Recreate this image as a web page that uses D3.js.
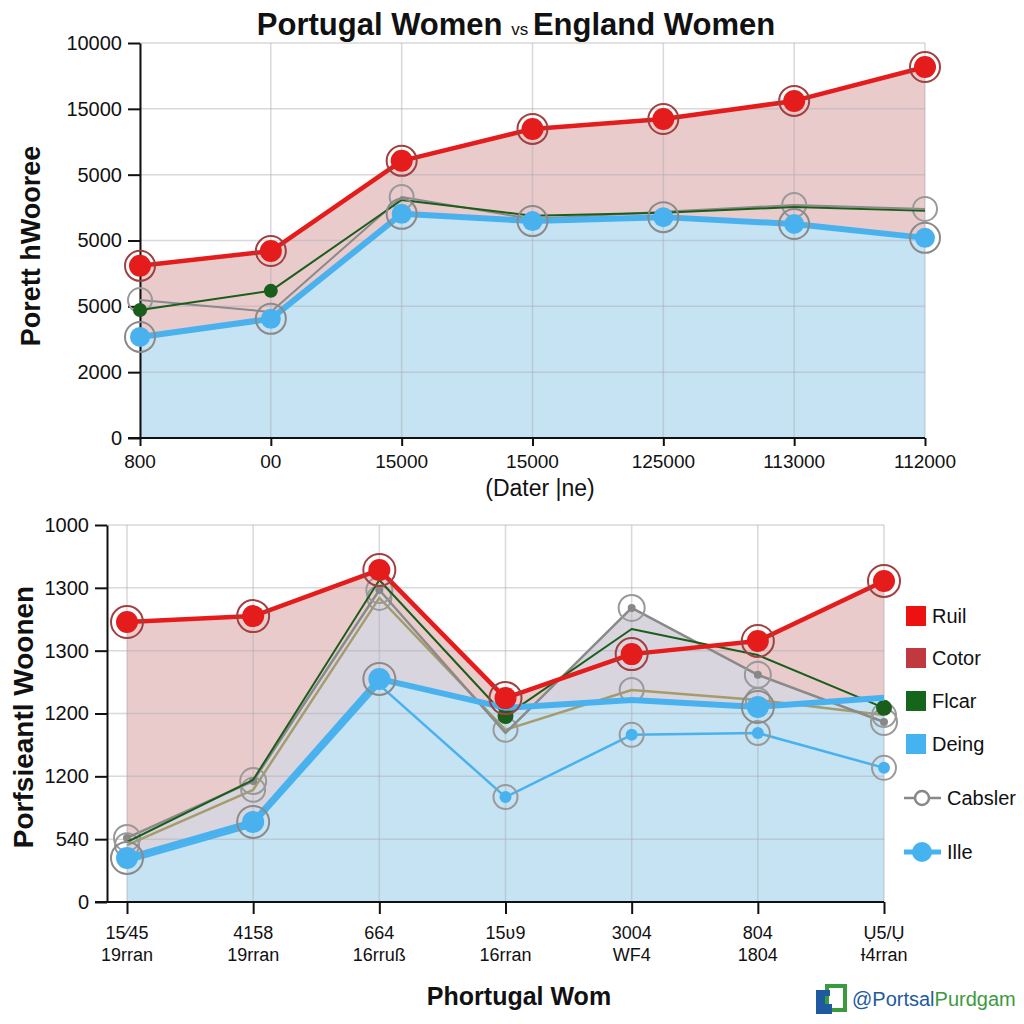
<!DOCTYPE html>
<html><head><meta charset="utf-8">
<script src="https://cdn.jsdelivr.net/npm/d3@7"></script>
<style>body{margin:0;background:#fff}svg{display:block;font-family:"Liberation Sans",Arial,sans-serif}</style>
</head><body><svg id="c" width="1024" height="1024"></svg>
<script>
// ---------- data ----------
const topXLabels = ["800","00","15000","15000","125000","113000","112000"];
const topYTicks = [0,2000,4000,6000,8000,10000,12000];
const topYLabels = ["0","2000","5000","5000","5000","15000","10000"];
const topRed   = [5230,5680,8420,9390,9690,10240,11270];
const topGreen = [3890,4470,7230,6750,6840,7020,6900];
const topGray  = [4190,3830,7320,6650,6870,7080,6960];
const topBlue  = [3070,3620,6810,6590,6710,6500,6080];

const botXLabels1 = ["15⁄45","4158","664","15ʋ9","3004","804","Ụ5/Ụ"];
const botXLabels2 = ["19rran","19rran","16rruß","16rran","WF4","1804","Ɨ4rran"];
const botYTicks = [0,200,400,600,800,1000,1200];
const botYLabels = ["0","540","1200","1200","1300","1300","1000"];
const botRed   = [891,910,1057,649,789,831,1022];
const botGreen = [191,389,1025,592,869,786,618];
const botTan   = [181,357,968,548,675,643,595];
const botGray  = [204,385,993,538,936,723,573];
const botBlue  = [140,255,710,618,643,621,650];
const botBlueThin = [127,242,691,334,532,538,427];

const legendNames = ["Ruil","Cotor","Flcar","Deing","Cabsler","Ille"];
const legendColors = ["#ee1111","#c0393f","#15651a","#45b3f0","#888888","#45b3f0"];

// ---------- drawing ----------
const svg = d3.select("#c");
const RED="#e51c1c", BLUE="#49b2ee", GREEN="#1b5e1b", GRAY="#8a8a8a", TAN="#a49c6c";

function panel(cfg){
  const g = svg.append("g");
  const x = d3.scalePoint().domain(d3.range(cfg.n)).range(cfg.xr);
  const y = d3.scaleLinear().domain(cfg.yd).range(cfg.yr);
  const idx = d3.range(cfg.n);
  cfg.areas.forEach(a=>{
    g.append("path").attr("fill",a.fill)
     .attr("d", d3.area().x(i=>x(i)).y0(y(0)).y1(i=>y(a.data[i]))(idx));
  });
  g.selectAll(".hg").data(cfg.yticks).join("line")
    .attr("x1",cfg.gridLeft).attr("x2",cfg.xr[1]).attr("y1",d=>y(d)).attr("y2",d=>y(d))
    .attr("stroke","rgba(170,170,180,0.45)").attr("stroke-width",1.5);
  g.selectAll(".vg").data(idx).join("line")
    .attr("x1",i=>x(i)).attr("x2",i=>x(i)).attr("y1",cfg.yr[1]).attr("y2",cfg.yr[0])
    .attr("stroke","rgba(170,170,180,0.45)").attr("stroke-width",1.5);
  const ya = g.append("g").attr("transform",`translate(${cfg.axisX},0)`)
    .call(d3.axisLeft(y).tickValues(cfg.yticks).tickFormat((d,i)=>cfg.ylabels[i]).tickSize(12).tickSizeOuter(0));
  ya.select(".domain").attr("stroke","#111").attr("stroke-width",2);
  ya.selectAll(".tick line").attr("stroke","#111").attr("stroke-width",2);
  ya.selectAll("text").attr("font-size",20).attr("fill","#111").attr("x",-18)
    .attr("font-family","Liberation Sans, Arial, sans-serif");
  const xa = g.append("g").attr("transform",`translate(0,${cfg.yr[0]})`)
    .call(d3.axisBottom(x).tickFormat(()=> "").tickSize(cfg.xTick).tickSizeOuter(0));
  xa.select(".domain").attr("d",`M${cfg.axisX-12},0H${cfg.xr[1]}`).attr("stroke","#111").attr("stroke-width",2);
  xa.selectAll(".tick line").attr("stroke","#111").attr("stroke-width",2);
  return {g,x,y,idx};
}

function line(p, data, color, w){
  p.g.append("path").attr("fill","none").attr("stroke",color).attr("stroke-width",w)
   .attr("stroke-linejoin","round")
   .attr("d", d3.line().x(i=>p.x(i)).y(i=>p.y(data[i]))(p.idx));
}
function dots(p, data, which, r, fill, ring, ringR, ringColor){
  which.forEach(i=>{
    if(ring) p.g.append("circle").attr("cx",p.x(i)).attr("cy",p.y(data[i])).attr("r",ringR)
      .attr("fill","none").attr("stroke",ringColor).attr("stroke-width",2);
    if(r>0) p.g.append("circle").attr("cx",p.x(i)).attr("cy",p.y(data[i])).attr("r",r).attr("fill",fill);
  });
}

// ---- top panel ----
const T = panel({n:7, xr:[140,925], yd:[0,12000], yr:[438,43], yticks:topYTicks, ylabels:topYLabels,
  axisX:140, gridLeft:140, xTick:8,
  areas:[{data:topRed, fill:"#e9cbcc"},{data:topBlue, fill:"#c5e3f2"}]});
line(T, topGray, GRAY, 2);
dots(T, topGray, [0,2,5,6], 0, null, true, 12, "#999");
line(T, topGreen, GREEN, 2);
dots(T, topGreen, [0,1], 7, GREEN, false);
line(T, topBlue, BLUE, 6);
dots(T, topBlue, [0,1,2,3,4,5,6], 10, BLUE, true, 15, "#8a8a8a");
line(T, topRed, RED, 4.5);
dots(T, topRed, [0,1,2,3,4,5,6], 11, RED, true, 15, "#a04040");
T.g.selectAll(".xl").data(topXLabels).join("text")
  .attr("x",(d,i)=>T.x(i)).attr("y",468).attr("text-anchor","middle").attr("font-size",19).attr("fill","#111").text(d=>d);

// ---- bottom panel ----
const B = panel({n:7, xr:[127,884], yd:[0,1200], yr:[902,525], yticks:botYTicks, ylabels:botYLabels,
  axisX:107, gridLeft:107, xTick:12,
  areas:[{data:botRed, fill:"#e9cbcc"},{data:botGray, fill:"#d9d5de"},{data:botBlue, fill:"#c5e3f2"}]});
line(B, botBlueThin, BLUE, 2.5);
dots(B, botBlueThin, [3,4,5,6], 6, BLUE, true, 12, "#999");
line(B, botTan, TAN, 2.5);
dots(B, botTan, [0,1,2,3,4,5,6], 0, null, true, 12, "#999");
line(B, botGray, GRAY, 2.5);
dots(B, botGray, [0,1,2,4,5,6], 4, "#888", true, 13, "#999");
line(B, botGreen, GREEN, 2);
dots(B, botGreen, [3,6], 8, GREEN, false);
line(B, botBlue, BLUE, 6);
dots(B, botBlue, [0,1,2,5], 11, BLUE, true, 16, "#8a8a8a");
line(B, botRed, RED, 4.5);
dots(B, botRed, [0,1,2,3,4,5,6], 11, RED, true, 16, "#a04040");
const bl = B.g.selectAll(".xl").data(botXLabels1).join("text")
  .attr("x",(d,i)=>B.x(i)).attr("y",939).attr("text-anchor","middle").attr("font-size",18).attr("fill","#111");
bl.append("tspan").attr("x",(d,i)=>B.x(i)).text(d=>d);
bl.append("tspan").attr("x",(d,i)=>B.x(i)).attr("dy",22).text((d,i)=>botXLabels2[i]);

// ---- legend ----
const lg = svg.append("g");
const ly = [616,658,701,744,798,852];
legendNames.forEach((n,i)=>{
  if(i<4){
    lg.append("rect").attr("x",906).attr("y",ly[i]-10).attr("width",20).attr("height",20).attr("fill",legendColors[i]);
    lg.append("text").attr("x",932).attr("y",ly[i]+7).attr("font-size",20).attr("fill","#111").text(n);
  } else if(i===4){
    lg.append("line").attr("x1",904).attr("x2",941).attr("y1",ly[i]).attr("y2",ly[i]).attr("stroke","#888").attr("stroke-width",2.5);
    lg.append("circle").attr("cx",922).attr("cy",ly[i]).attr("r",7).attr("fill","#fff").attr("stroke","#888").attr("stroke-width",2.5);
    lg.append("text").attr("x",947).attr("y",ly[i]+7).attr("font-size",20).attr("fill","#111").text(n);
  } else {
    lg.append("line").attr("x1",904).attr("x2",941).attr("y1",ly[i]).attr("y2",ly[i]).attr("stroke",legendColors[i]).attr("stroke-width",5);
    lg.append("circle").attr("cx",922).attr("cy",ly[i]).attr("r",10).attr("fill",legendColors[i]);
    lg.append("text").attr("x",947).attr("y",ly[i]+7).attr("font-size",20).attr("fill","#111").text(n);
  }
});

// ---- titles ----
const tt = svg.append("text").attr("x",516).attr("y",35).attr("text-anchor","middle").attr("font-weight","bold").attr("fill","#111");
tt.append("tspan").attr("font-size",31).text("Portugal Women ");
tt.append("tspan").attr("font-size",17).attr("font-weight","normal").text("vs ");
tt.append("tspan").attr("font-size",31).text("England Women");
svg.append("text").attr("transform","translate(40,246) rotate(-90)").attr("text-anchor","middle")
  .attr("font-weight","bold").attr("font-size",27).attr("fill","#111").text("Porett hWooree");
svg.append("text").attr("x",540).attr("y",496).attr("text-anchor","middle").attr("font-size",23).attr("fill","#111").text("(Dater |ne)");
svg.append("text").attr("transform","translate(33,717) rotate(-90)").attr("text-anchor","middle")
  .attr("font-weight","bold").attr("font-size",28).attr("fill","#111").text("Porfsieantl Woonen");
svg.append("text").attr("x",519).attr("y",1005).attr("text-anchor","middle").attr("font-weight","bold").attr("font-size",25).attr("fill","#111").text("Phortugal Wom");

// ---- watermark ----
const wm = svg.append("g");
wm.append("rect").attr("x",827).attr("y",986).attr("width",18).attr("height",24).attr("fill","none").attr("stroke","#3a9a3e").attr("stroke-width",4);
wm.append("path").attr("d","M816,990h14v6h-5v8h7v10h-16z").attr("fill","#1e5aa0");
wm.append("text").attr("x",852).attr("y",1006).attr("font-size",20).attr("fill","#1e5aa0")
  .text("@Portsal").append("tspan").attr("fill","#3d9a40").text("Purdgam");
</script></body></html>
